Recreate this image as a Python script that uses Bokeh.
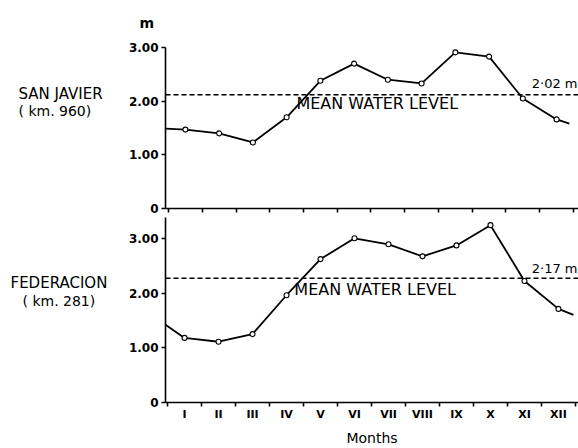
from bokeh.plotting import figure
from bokeh.layouts import column, row
from bokeh.models import FixedTicker, Span, Label, Range1d
from bokeh.core.properties import value
from bokeh.embed import file_html
from bokeh.resources import INLINE

# ---------------- data ----------------
months = list(range(1, 13))
month_labels = ["I", "II", "III", "IV", "V", "VI", "VII", "VIII", "IX", "X", "XI", "XII"]
month_bounds = [m - 0.5 for m in months] + [12.5]

# San Javier (km. 960) monthly mean water level (m)
sj_levels = [1.47, 1.40, 1.23, 1.70, 2.38, 2.70, 2.40, 2.33, 2.91, 2.83, 2.05, 1.66]
sj_edge_x = [0.41, 12.38]
sj_edge_levels = [1.49, 1.58]
sj_mean = 2.12
sj_mean_label = "2·02 m"

# Federacion (km. 281) monthly mean water level (m)
fed_levels = [1.18, 1.11, 1.25, 1.96, 2.62, 3.00, 2.89, 2.67, 2.87, 3.24, 2.22, 1.71]
fed_edge_x = [0.44, 12.44]
fed_edge_levels = [1.42, 1.60]
fed_mean = 2.27
fed_mean_label = "2·17 m"

y_ticks = [0, 1, 2, 3]
y_tick_labels = {0: "0", 1: "1.00", 2: "2.00", 3: "3.00"}

station_names = ["SAN JAVIER", "FEDERACION"]
station_kms = ["( km. 960)", "( km. 281)"]

FONT = "DejaVu Sans"
LEFT_W = 124
TOTAL_W = 578
TOTAL_H = 448
TOP_H = 216


def data_label(p, x, y, text, size, align="left"):
    p.add_layout(Label(x=x, y=y, text=text, text_font=FONT, text_font_size=size,
                       text_color="black", text_baseline="middle", text_align=align))


def make_panel(height, mb_left, mb_top, mb_bottom, xr, yr,
               levels, edge_x, edge_levels, mean, show_months):
    p = figure(width=TOTAL_W - LEFT_W, height=height, output_backend="svg",
               toolbar_location=None, x_range=Range1d(*xr), y_range=Range1d(*yr),
               min_border_left=mb_left, min_border_right=0,
               min_border_top=mb_top, min_border_bottom=mb_bottom)
    p.outline_line_color = None
    p.xgrid.visible = False
    p.ygrid.visible = False
    p.background_fill_color = "white"
    p.border_fill_color = "white"

    # x axis
    xa = p.xaxis[0]
    xa.ticker = FixedTicker(ticks=months if show_months else [], minor_ticks=month_bounds)
    xa.major_tick_out = 0
    xa.major_tick_in = 0
    xa.minor_tick_out = 4
    xa.minor_tick_in = 0
    xa.minor_tick_line_width = 1.6
    xa.minor_tick_line_color = "black"
    xa.axis_line_width = 1.6
    xa.axis_line_color = "black"
    if show_months:
        xa.major_label_overrides = {m: l for m, l in zip(months, month_labels)}
        xa.major_label_text_font = FONT
        xa.major_label_text_font_style = "bold"
        xa.major_label_text_font_size = "11px"
        xa.major_label_text_color = "black"
        xa.major_label_standoff = 1
        xa.axis_label = "Months"
        xa.axis_label_text_font = FONT
        xa.axis_label_text_font_style = "normal"
        xa.axis_label_text_font_size = "14px"
        xa.axis_label_text_color = "black"
        xa.axis_label_standoff = 6
    else:
        xa.major_label_standoff = 0

    # y axis
    ya = p.yaxis[0]
    ya.ticker = FixedTicker(ticks=y_ticks, minor_ticks=[])
    ya.major_label_overrides = y_tick_labels
    ya.major_label_text_font = FONT
    ya.major_label_text_font_style = "bold"
    ya.major_label_text_font_size = "12px"
    ya.major_label_text_color = "black"
    ya.major_label_standoff = 3
    ya.major_tick_out = 4
    ya.major_tick_in = 0
    ya.major_tick_line_width = 1.6
    ya.axis_line_width = 1.6
    ya.axis_line_color = "black"
    ya.major_tick_line_color = "black"

    # mean water level
    p.add_layout(Span(location=mean, dimension="width", line_color="black",
                      line_dash="5 3", line_width=1.6))

    # curve
    xs = [edge_x[0]] + months + [edge_x[1]]
    ys = [edge_levels[0]] + levels + [edge_levels[1]]
    p.line(xs, ys, line_color="black", line_width=1.8)
    p.scatter(months, levels, marker="circle", size=5, fill_color="white",
              line_color="black", line_width=1.1)
    return p


# ---- top panel: San Javier ----
top = make_panel(TOP_H, 162 - LEFT_W, 47, 8, (0.41, 12.65), (0, 3.0),
                 sj_levels, sj_edge_x, sj_edge_levels, sj_mean, False)
data_label(top, 4.29, 1.96, "MEAN WATER LEVEL", "16px")
data_label(top, 12.62, 2.33, sj_mean_label, "13px", align="right")
# unit label "m" above the y axis
top.title.text = "m"
top.title.align = "left"
top.title.vertical_align = "top"
top.title.offset = -26
top.title.standoff = 29
top.title.text_font = FONT
top.title.text_font_style = "bold"
top.title.text_font_size = "14px"
top.title.text_color = "black"

# ---- bottom panel: Federacion ----
bottom = make_panel(TOTAL_H - TOP_H, 165 - LEFT_W, 1, 46, (0.44, 12.59), (0, 3.38),
                    fed_levels, fed_edge_x, fed_edge_levels, fed_mean, True)
data_label(bottom, 4.23, 2.06, "MEAN WATER LEVEL", "16px")
data_label(bottom, 12.56, 2.45, fed_mean_label, "13px", align="right")

# ---- station names (left column) ----
left = figure(width=LEFT_W, height=TOTAL_H, output_backend="svg", toolbar_location=None,
              x_range=Range1d(0, LEFT_W), y_range=Range1d(TOTAL_H, 0),
              min_border=0, x_axis_type=None, y_axis_type=None)
left.outline_line_color = None
left.xgrid.visible = False
left.ygrid.visible = False
left.text(x=[18, 10], y=[93, 282], text=station_names,
          text_font=value(FONT), text_font_size="15px", text_color="black",
          text_baseline="middle", text_align="left")
left.text(x=[18, 22], y=[110, 300], text=station_kms,
          text_font=value(FONT), text_font_size="14px", text_color="black",
          text_baseline="middle", text_align="left")

layout = row(left, column(top, bottom))
open("out.html", "w").write(file_html(layout, INLINE))
